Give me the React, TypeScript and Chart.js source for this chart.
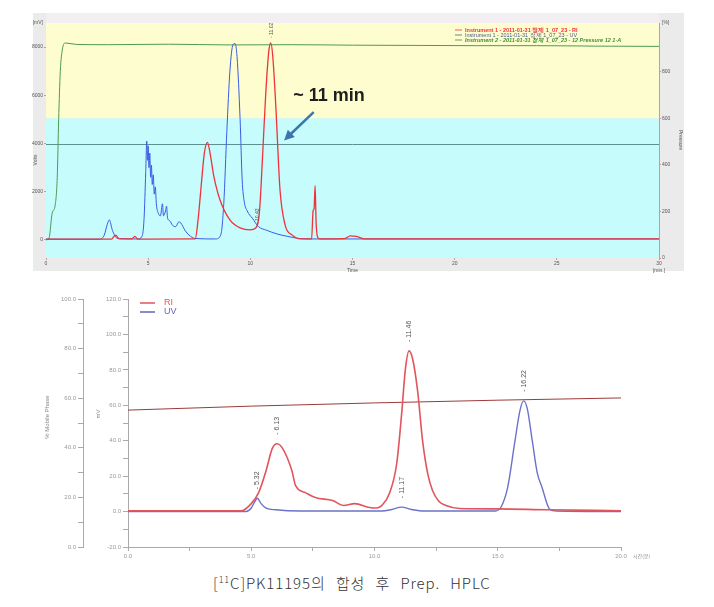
import React, { useEffect, useRef } from "react";
import { Chart, registerables } from "chart.js";

Chart.register(...registerables);

// ================= Top chromatogram =================
const topTimeTicks = [0, 5, 10, 15, 20, 25, 30];
const topSignalTicks = [0, 2000, 4000, 6000, 8000];
const topPressureTicks = [0, 200, 400, 600, 800];

const topRiTime = [0, 3.2, 3.4, 3.6, 4.2, 4.35, 4.5, 7.3, 7.45, 7.6, 7.75, 7.9, 8.05, 8.2, 8.5, 9.0, 9.5, 10.0, 10.25, 10.45, 10.6, 10.75, 10.9, 11.0, 11.1, 11.25, 11.45, 11.7, 12.05, 12.45, 13.0, 13.07, 13.12, 13.17, 13.22, 13.3, 13.4, 14.6, 14.9, 15.2, 15.6, 30];
const topRiValue = [30, 30, 200, 40, 40, 150, 30, 40, 900, 2300, 3600, 4050, 3500, 2700, 1700, 830, 500, 420, 480, 1200, 3500, 6000, 7800, 8170, 7600, 5500, 2100, 625, 200, 40, 40, 1200, 1300, 2250, 700, 100, 40, 50, 170, 150, 40, 40];

const topUvTime = [0, 2.6, 2.85, 3.0, 3.1, 3.25, 3.5, 4.5, 4.7, 4.8, 4.88, 4.93, 4.97, 5.0, 5.04, 5.08, 5.12, 5.16, 5.2, 5.25, 5.3, 5.35, 5.4, 5.5, 5.6, 5.7, 5.75, 5.85, 5.9, 5.95, 6.05, 6.2, 6.35, 6.5, 6.6, 6.8, 7.0, 7.3, 8.3, 8.55, 8.7, 8.85, 9.0, 9.15, 9.25, 9.35, 9.5, 9.6, 9.7, 9.85, 10.1, 10.4, 10.8, 11.3, 11.8, 12.4, 13, 30];
const topUvValue = [30, 30, 200, 650, 830, 400, 60, 40, 150, 900, 2800, 4100, 3300, 3900, 3000, 3600, 2600, 3100, 2300, 2700, 1900, 2200, 1500, 1100, 1000, 1500, 1000, 1200, 1400, 900, 800, 600, 550, 750, 700, 400, 200, 60, 40, 200, 1500, 4500, 7000, 8100, 8150, 7600, 5000, 2500, 1600, 1200, 900, 550, 400, 250, 150, 60, 40, 40];

const topPressTime = [0, 0.15, 0.3, 0.45, 0.55, 0.62, 0.7, 0.8, 0.95, 1.5, 3, 6, 9, 12, 15, 18, 21, 24, 27, 30];
const topPressValue = [0, 80, 1100, 1450, 2600, 5000, 7000, 7900, 8170, 8110, 8100, 8120, 8090, 8100, 8080, 8070, 8060, 8060, 8040, 8030];

const topLegendLabels = [
  "Instrument 1 - 2011-01-31 정제 1_07_23 - RI",
  "Instrument 1 - 2011-01-31 정제 1_07_23 - UV",
  "Instrument 2 - 2011-01-31 정제 1_07_23 - 12 Pressure 12 1-A",
];
const topBandSplit = 600; // on pressure axis
const topRefLine = 4000;
const topPeakTime = [11.02, 10.35];
const topPeakValue = [8170, 450];
const topPeakText = ["11.02", "10.43"];
const annotationText = "~ 11 min";
const arrowTail = [13.1, 5300];
const arrowTip = [11.65, 4130];
const annotationPos = [12.1, 5750];

// ================= Bottom chromatogram =================
const botRiTime = [0, 4.6, 5.0, 5.3, 5.6, 5.85, 6.05, 6.3, 6.65, 6.8, 7.2, 7.6, 8.3, 8.75, 9.2, 9.8, 10.1, 10.3, 10.6, 10.9, 11.1, 11.25, 11.4, 11.55, 11.75, 11.95, 12.15, 12.35, 12.6, 12.9, 13.45, 15, 17, 20];
const botRiValue = [0.5, 0.5, 4.5, 10.7, 23, 35.5, 38.3, 35, 23, 14.6, 10.7, 7.9, 6.2, 3.4, 4.5, 2.3, 2.0, 3.5, 10, 27, 55, 80, 90.7, 86, 68, 40, 22, 12, 6, 3.4, 1.7, 1.5, 1.0, 0.5];

const botUvTime = [0, 4.8, 5.0, 5.12, 5.25, 5.4, 5.6, 6.0, 7.0, 10.3, 10.7, 11.1, 11.5, 12.0, 14.9, 15.15, 15.4, 15.7, 15.9, 16.05, 16.2, 16.4, 16.6, 16.8, 17.1, 17.4, 20];
const botUvValue = [0, 0, 2, 5, 7.5, 4.5, 2, 1, 0.3, 0.3, 1.2, 2.5, 1.2, 0.3, 0.3, 3, 13.5, 40, 57, 62.5, 58, 40, 22, 13.5, 1.5, 0.3, 0];

const botMobileTime = [0, 5, 10, 15, 20];
const botMobileValue = [55.2, 56.8, 58.1, 59.2, 60.1];

const botPeakTime = [6.05, 5.25, 11.4, 11.1, 16.05];
const botPeakValue = [38.3, 7.5, 90.7, 2.5, 62.5];
const botPeakText = ["6.13", "5.32", "11.46", "11.17", "16.22"];
const botLegend = ["RI", "UV"];
const caption = "PK11195의 합성 후 Prep. HPLC";

const pts = (t: number[], v: number[]) => t.map((x, i) => ({ x, y: v[i] }));

const TOP_RED = "#f0323c";
const TOP_BLUE = "#3b5ce6";
const TOP_GREEN = "#4f9a55";

const topDecor = {
  id: "topDecor",
  beforeDraw(chart: any) {
    const { ctx, chartArea: a } = chart;
    ctx.save();
    ctx.fillStyle = "#ffffff";
    ctx.fillRect(0, 0, chart.width, chart.height);
    ctx.fillStyle = "#ebebeb";
    ctx.fillRect(13, 5, 651, 258);
    ctx.fillStyle = "#f3eef2";
    ctx.fillRect(a.left, 5, a.right - a.left, a.top - 5);
    ctx.restore();
  },
  beforeDatasetsDraw(chart: any) {
    const { ctx, chartArea: a, scales } = chart;
    const yb = scales.y2.getPixelForValue(topBandSplit);
    ctx.save();
    ctx.fillStyle = "#fdfdcf";
    ctx.fillRect(a.left, a.top, a.right - a.left, yb - a.top);
    ctx.fillStyle = "#c6fcfc";
    ctx.fillRect(a.left, yb, a.right - a.left, a.bottom - yb);
    const yl = Math.round(scales.y.getPixelForValue(topRefLine)) + 0.5;
    ctx.strokeStyle = "#5f9090";
    ctx.lineWidth = 1;
    ctx.beginPath();
    ctx.moveTo(a.left, yl);
    ctx.lineTo(a.right, yl);
    ctx.stroke();
    ctx.restore();
  },
  afterDraw(chart: any) {
    const { ctx, chartArea: a, scales } = chart;
    const xs = scales.x;
    const ys = scales.y;
    ctx.save();
    ctx.fillStyle = "#555";
    ctx.font = "5px Arial";
    ctx.textBaseline = "middle";
    ctx.textAlign = "right";
    ctx.fillText("[mV]", a.left - 3, a.top);
    ctx.textAlign = "left";
    ctx.fillText("[%]", a.right + 3, a.top);
    ctx.textAlign = "center";
    ctx.textBaseline = "top";
    ctx.fillText("Time", xs.getPixelForValue(15), a.bottom + 10);
    ctx.fillText("[min.]", a.right, a.bottom + 10);
    // rotated axis titles
    ctx.save();
    ctx.translate(16, 152);
    ctx.rotate(-Math.PI / 2);
    ctx.textAlign = "center";
    ctx.textBaseline = "middle";
    ctx.fillText("Volts", 0, 0);
    ctx.restore();
    ctx.save();
    ctx.translate(a.right + 21, 132);
    ctx.rotate(Math.PI / 2);
    ctx.textAlign = "center";
    ctx.textBaseline = "middle";
    ctx.fillText("Pressure", 0, 0);
    ctx.restore();

    // legend
    const lx = a.right - 204;
    const colors = [TOP_RED, "#505a90", "#3f8f3a"];
    const fonts = ["bold 5.5px Arial", "5.5px Arial", "italic bold 5.5px Arial"];
    topLegendLabels.forEach((t, i) => {
      const ly = a.top + 7 + i * 5;
      ctx.strokeStyle = colors[i];
      ctx.lineWidth = 0.8;
      ctx.beginPath();
      ctx.moveTo(lx, ly);
      ctx.lineTo(lx + 7, ly);
      ctx.stroke();
      ctx.fillStyle = colors[i];
      ctx.font = fonts[i];
      ctx.textAlign = "left";
      ctx.textBaseline = "middle";
      ctx.fillText(t, lx + 10, ly);
    });

    // peak labels
    ctx.fillStyle = "#555";
    ctx.font = "5px Arial";
    topPeakText.forEach((t, i) => {
      const px = xs.getPixelForValue(topPeakTime[i]);
      const py = ys.getPixelForValue(topPeakValue[i]) - 5;
      ctx.save();
      ctx.translate(px, py);
      ctx.rotate(-Math.PI / 2);
      ctx.textAlign = "left";
      ctx.textBaseline = "middle";
      ctx.fillText("- " + t, 0, 0);
      ctx.restore();
    });

    // annotation
    ctx.fillStyle = "#1e1e1e";
    ctx.font = "bold 18px 'Liberation Sans', Arial, sans-serif";
    ctx.textAlign = "left";
    ctx.textBaseline = "alphabetic";
    ctx.fillText(annotationText, xs.getPixelForValue(annotationPos[0]), ys.getPixelForValue(annotationPos[1]));
    const tx = xs.getPixelForValue(arrowTail[0]);
    const ty = ys.getPixelForValue(arrowTail[1]);
    const hx = xs.getPixelForValue(arrowTip[0]);
    const hy = ys.getPixelForValue(arrowTip[1]);
    const ang = Math.atan2(hy - ty, hx - tx);
    ctx.strokeStyle = "#3c74ad";
    ctx.fillStyle = "#3c74ad";
    ctx.lineWidth = 2.5;
    ctx.beginPath();
    ctx.moveTo(tx, ty);
    ctx.lineTo(hx - 6 * Math.cos(ang), hy - 6 * Math.sin(ang));
    ctx.stroke();
    ctx.beginPath();
    ctx.moveTo(hx, hy);
    ctx.lineTo(hx - 10 * Math.cos(ang) + 5 * Math.sin(ang), hy - 10 * Math.sin(ang) - 5 * Math.cos(ang));
    ctx.lineTo(hx - 10 * Math.cos(ang) - 5 * Math.sin(ang), hy - 10 * Math.sin(ang) + 5 * Math.cos(ang));
    ctx.closePath();
    ctx.fill();
    ctx.restore();
  },
};

const botDecor = {
  id: "botDecor",
  afterDraw(chart: any) {
    const { ctx, chartArea: a, scales } = chart;
    const xs = scales.x;
    const ys = scales.yMv;
    ctx.save();
    // legend
    const cols = ["#e2555c", "#5f66c0"];
    botLegend.forEach((t, i) => {
      const ly = a.top + 4 + i * 9;
      ctx.strokeStyle = cols[i];
      ctx.lineWidth = 1.5;
      ctx.beginPath();
      ctx.moveTo(a.left + 12, ly);
      ctx.lineTo(a.left + 27, ly);
      ctx.stroke();
      ctx.fillStyle = cols[i];
      ctx.font = "9px Arial";
      ctx.textAlign = "left";
      ctx.textBaseline = "middle";
      ctx.fillText(t, a.left + 36, ly);
    });
    // axis titles
    ctx.fillStyle = "#888";
    ctx.font = "6px Arial";
    ctx.save();
    ctx.translate(17, 127);
    ctx.rotate(-Math.PI / 2);
    ctx.textAlign = "center";
    ctx.textBaseline = "middle";
    ctx.fillText("% Mobile Phase", 0, 0);
    ctx.restore();
    ctx.save();
    ctx.translate(68, 124);
    ctx.rotate(-Math.PI / 2);
    ctx.textAlign = "center";
    ctx.textBaseline = "middle";
    ctx.fillText("mV", 0, 0);
    ctx.restore();
    ctx.textAlign = "left";
    ctx.textBaseline = "middle";
    ctx.font = "5px 'Noto Sans CJK KR', sans-serif";
    ctx.fillText("시간(분)", a.right + 12, a.bottom + 9);
    // peak labels
    ctx.fillStyle = "#555";
    ctx.font = "7px Arial";
    botPeakText.forEach((t, i) => {
      const px = xs.getPixelForValue(botPeakTime[i]);
      const py = ys.getPixelForValue(botPeakValue[i]) - 9;
      ctx.save();
      ctx.translate(px, py);
      ctx.rotate(-Math.PI / 2);
      ctx.textAlign = "left";
      ctx.textBaseline = "middle";
      ctx.fillText("- " + t, 0, 0);
      ctx.restore();
    });
    ctx.restore();
  },
};

function TopChart() {
  const ref = useRef<HTMLCanvasElement>(null);
  useEffect(() => {
    const tickFont = { size: 5, family: "Arial" };
    const plain = (v: any) => String(v);
    const chart = new Chart(ref.current as HTMLCanvasElement, {
      type: "line",
      data: {
        datasets: [
          { label: "RI", data: pts(topRiTime, topRiValue), borderColor: TOP_RED, borderWidth: 1.3, yAxisID: "y" },
          { label: "UV", data: pts(topUvTime, topUvValue), borderColor: TOP_BLUE, borderWidth: 1, yAxisID: "y" },
          { label: "Pressure", data: pts(topPressTime, topPressValue), borderColor: TOP_GREEN, borderWidth: 1, yAxisID: "y" },
        ],
      },
      options: {
        animation: false,
        responsive: false,
        maintainAspectRatio: false,
        elements: { point: { radius: 0 }, line: { cubicInterpolationMode: "monotone", fill: false } },
        plugins: { legend: { display: false }, tooltip: { enabled: false } },
        layout: { padding: { top: 15, left: 0, right: 0, bottom: 0 } },
        scales: {
          x: {
            type: "linear",
            min: 0,
            max: 30,
            afterBuildTicks: (s: any) => { s.ticks = topTimeTicks.map((v) => ({ value: v })); },
            afterFit: (s: any) => { s.height = 20; },
            ticks: { font: tickFont, color: "#555", padding: 1, maxRotation: 0, autoSkip: false, callback: plain },
            grid: { display: true, drawOnChartArea: false, tickLength: 2, color: "#aaa" },
            border: { display: false },
          },
          y: {
            position: "left",
            min: -750,
            max: 9000,
            afterBuildTicks: (s: any) => { s.ticks = topSignalTicks.map((v) => ({ value: v })); },
            afterFit: (s: any) => { s.width = 26; },
            ticks: { font: tickFont, color: "#555", padding: 1, callback: plain },
            grid: { display: true, drawOnChartArea: false, tickLength: 2, color: "#f08a8a" },
            border: { color: "#f08a8a" },
          },
          y2: {
            position: "right",
            min: 0,
            max: 1010,
            afterBuildTicks: (s: any) => { s.ticks = topPressureTicks.map((v) => ({ value: v })); },
            afterFit: (s: any) => { s.width = 36; },
            ticks: { font: tickFont, color: "#555", padding: 1, callback: plain },
            grid: { display: true, drawOnChartArea: false, tickLength: 2, color: "#f08a8a" },
            border: { color: "#f08a8a" },
          },
        },
      } as any,
      plugins: [topDecor as any],
    });
    return () => chart.destroy();
  }, []);
  return <canvas ref={ref} width={675} height={270} style={{ position: "absolute", left: 20, top: 8, width: 675, height: 270 }} />;
}

function BottomChart() {
  const ref = useRef<HTMLCanvasElement>(null);
  useEffect(() => {
    const tickFont = { size: 6, family: "Arial" };
    const fmt = (step: number) => (v: any) => (Math.abs(v % step) < 1e-9 ? Number(v).toFixed(1) : "");
    const chart = new Chart(ref.current as HTMLCanvasElement, {
      type: "line",
      data: {
        datasets: [
          { label: "RI", data: pts(botRiTime, botRiValue), borderColor: "#e2555c", borderWidth: 1.6, yAxisID: "yMv" },
          { label: "UV", data: pts(botUvTime, botUvValue), borderColor: "#6b72c8", borderWidth: 1.4, yAxisID: "yMv" },
          { label: "% Mobile Phase", data: pts(botMobileTime, botMobileValue), borderColor: "#9c3a3a", borderWidth: 1, yAxisID: "yMob" },
        ],
      },
      options: {
        animation: false,
        responsive: false,
        maintainAspectRatio: false,
        elements: { point: { radius: 0 }, line: { cubicInterpolationMode: "monotone", fill: false } },
        plugins: { legend: { display: false }, tooltip: { enabled: false } },
        layout: { padding: { top: 9, left: 0, right: 79, bottom: 0 } },
        scales: {
          x: {
            type: "linear",
            min: 0,
            max: 20,
            afterFit: (s: any) => { s.height = 23; },
            ticks: { stepSize: 2.5, callback: fmt(5), font: tickFont, color: "#999", padding: 2, maxRotation: 0, autoSkip: false },
            grid: { display: true, drawOnChartArea: false, tickLength: 4, color: "#aaa" },
            border: { color: "#aaa" },
          },
          yMob: {
            position: "left",
            weight: 1,
            min: 0,
            max: 100,
            afterFit: (s: any) => { s.width = 53; },
            ticks: { stepSize: 10, callback: fmt(20), font: tickFont, color: "#999", padding: 2, autoSkip: false },
            grid: { display: true, drawOnChartArea: false, tickLength: 5, color: "#aaa" },
            border: { color: "#aaa" },
          },
          yMv: {
            position: "left",
            weight: 0,
            min: -20,
            max: 120,
            afterFit: (s: any) => { s.width = 45; },
            ticks: { stepSize: 10, callback: fmt(20), font: tickFont, color: "#999", padding: 2, autoSkip: false },
            grid: { display: true, drawOnChartArea: false, tickLength: 5, color: "#aaa" },
            border: { color: "#aaa" },
          },
        },
      } as any,
      plugins: [botDecor as any],
    });
    return () => chart.destroy();
  }, []);
  return <canvas ref={ref} width={670} height={280} style={{ position: "absolute", left: 30, top: 290, width: 670, height: 280 }} />;
}

export default function App() {
  return (
    <div style={{ position: "absolute", left: 0, top: 0, width: 714, height: 607, background: "#fff", overflow: "hidden" }}>
      <TopChart />
      <BottomChart />
      <div
        style={{
          position: "absolute",
          left: 213,
          top: 572,
          whiteSpace: "nowrap",
          fontFamily: "'Noto Sans CJK KR', sans-serif",
          fontSize: 15,
          fontWeight: 300,
          color: "#333",
          wordSpacing: 6,
          letterSpacing: 0.9,
        }}
      >
        [<sup style={{ fontSize: 9 }}>11</sup>C]{caption}
      </div>
    </div>
  );
}
